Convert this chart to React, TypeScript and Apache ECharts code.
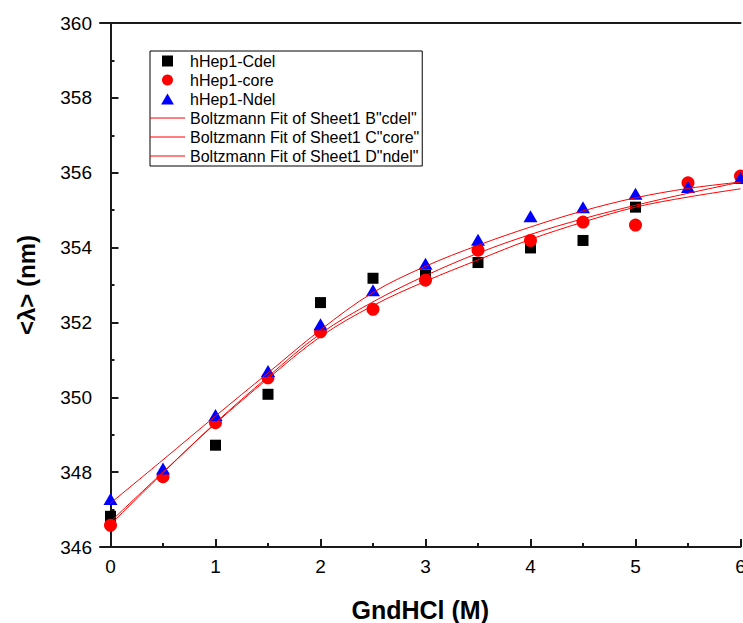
import React, { useEffect, useRef } from "react";
import * as echarts from "echarts";

// Measured data (GndHCl concentration in M)
const cdelX = [0, 1, 1.5, 2, 2.5, 3, 3.5, 4, 4.5, 5];
const cdelY = [346.82, 348.72, 350.08, 352.53, 353.18, 353.26, 353.6, 353.99, 354.19, 355.08];
const coreX = [0, 0.5, 1, 1.5, 2, 2.5, 3, 3.5, 4, 4.5, 5, 5.5, 6];
const coreY = [346.58, 347.88, 349.32, 350.52, 351.75, 352.35, 353.13, 353.93, 354.19, 354.68, 354.6, 355.73, 355.91];
const ndelX = [0, 0.5, 1, 1.5, 2, 2.5, 3, 3.5, 4, 4.5, 5, 5.5, 6];
const ndelY = [347.28, 348.1, 349.53, 350.7, 351.95, 352.86, 353.57, 354.21, 354.84, 355.08, 355.44, 355.62, 355.86];

// Boltzmann fit curves
const fitX = [0, 0.5, 1, 1.5, 2, 2.5, 3, 3.5, 4, 4.5, 5, 5.5, 6];
const fitCdel = [346.68, 348.0, 349.3, 350.5, 351.62, 352.45, 353.1, 353.67, 354.22, 354.68, 355.08, 355.35, 355.57];
const fitCore = [346.6, 347.98, 349.32, 350.55, 351.7, 352.55, 353.25, 353.85, 354.35, 354.77, 355.13, 355.45, 355.75];
const fitNdel = [347.17, 348.33, 349.5, 350.65, 351.8, 352.8, 353.5, 354.06, 354.55, 354.98, 355.33, 355.58, 355.75];

const xMajor = [0, 1, 2, 3, 4, 5, 6];
const xMinor = [0.5, 1.5, 2.5, 3.5, 4.5, 5.5];

const names = [
  "hHep1-Cdel",
  "hHep1-core",
  "hHep1-Ndel",
  'Boltzmann Fit of Sheet1 B"cdel"',
  'Boltzmann Fit of Sheet1 C"core"',
  'Boltzmann Fit of Sheet1 D"ndel"',
];

const zip = (xs: number[], ys: number[]) => xs.map((x, i) => [x, ys[i]]);

const FONT = "'Liberation Sans', Arial, sans-serif";
const INK = "#1a1a1a";

const ICON_SQUARE = "path://M0,0 L10,0 L10,10 L0,10 Z";
const ICON_TRIANGLE = "path://M7,0 L14,12 L0,12 Z";
const ICON_LINE = "path://M0,0 L35,0 L35,1 L0,1 Z";

export default function App() {
  const ref = useRef<HTMLDivElement>(null);
  useEffect(() => {
    if (!ref.current) return;
    const chart = echarts.init(ref.current, undefined, { renderer: "svg" });
    const axisLine = { show: true, lineStyle: { color: INK, width: 2 } };
    const fitSeries = (name: string, ys: number[]) => ({
      name,
      type: "line",
      symbol: "none",
      smooth: 0.35,
      lineStyle: { color: "#ff0000", width: 1 },
      itemStyle: { color: "#ff0000" },
      data: zip(fitX, ys),
      z: 5,
    });
    chart.setOption({
      animation: false,
      backgroundColor: "#ffffff",
      textStyle: { fontFamily: FONT },
      grid: { left: 100, top: 23, bottom: 76, right: 2.5, outerBoundsMode: "none", containLabel: false },
      legend: {
        orient: "vertical",
        left: 150,
        top: 51,
        padding: [2, 3, 2, 0],
        itemGap: 3,
        itemWidth: 35,
        itemHeight: 11,
        borderColor: "#000",
        borderWidth: 1,
        backgroundColor: "#fff",
        textStyle: { fontSize: 16, color: "#000", fontFamily: FONT },
        data: [
          { name: names[0], icon: ICON_SQUARE },
          { name: names[1], icon: "circle" },
          { name: names[2], icon: ICON_TRIANGLE },
          { name: names[3], icon: ICON_LINE },
          { name: names[4], icon: ICON_LINE },
          { name: names[5], icon: ICON_LINE },
        ],
      },
      xAxis: [
        {
          type: "value",
          min: -0.1,
          max: 6,
          position: "bottom",
          name: "GndHCl (M)",
          nameLocation: "middle",
          nameGap: 50,
          nameTextStyle: { fontSize: 25, fontWeight: "bold", color: "#000", fontFamily: FONT },
          axisLine,
          splitLine: { show: false },
          axisTick: {
            show: true,
            inside: true,
            length: 8,
            customValues: xMajor,
            lineStyle: { color: INK, width: 2 },
          },
          axisLabel: {
            customValues: xMajor,
            fontSize: 19,
            color: "#000",
            margin: 10,
            fontFamily: FONT,
          },
        },
        {
          type: "value",
          min: -0.1,
          max: 6,
          position: "bottom",
          axisLine: { show: false },
          splitLine: { show: false },
          axisTick: {
            show: true,
            inside: true,
            length: 4,
            customValues: xMinor,
            lineStyle: { color: INK, width: 2 },
          },
          axisLabel: { show: false },
        },
        {
          type: "value",
          min: -0.1,
          max: 6,
          position: "top",
          axisLine,
          splitLine: { show: false },
          axisTick: { show: false },
          axisLabel: { show: false },
        },
      ],
      yAxis: {
        type: "value",
        min: 346,
        max: 360,
        interval: 2,
        name: "<λ> (nm)",
        nameLocation: "middle",
        nameGap: 62,
        nameTextStyle: { fontSize: 24, fontWeight: "bold", color: "#000", fontFamily: FONT },
        axisLine,
        splitLine: { show: false },
        axisTick: { show: true, inside: true, length: 8, lineStyle: { color: INK, width: 2 } },
        minorTick: { show: true, splitNumber: 2, length: 4, lineStyle: { color: INK, width: 2 } },
        minorSplitLine: { show: false },
        axisLabel: { fontSize: 19, color: "#000", margin: 8, fontFamily: FONT },
      },
      series: [
        {
          name: names[0],
          type: "scatter",
          symbol: "rect",
          symbolSize: 11,
          itemStyle: { color: "#000000", opacity: 1 },
          data: zip(cdelX, cdelY),
          z: 2,
        },
        {
          name: names[1],
          type: "scatter",
          symbol: "circle",
          symbolSize: 13,
          itemStyle: { color: "#ff0000", opacity: 1 },
          data: zip(coreX, coreY),
          z: 3,
        },
        {
          name: names[2],
          type: "scatter",
          symbol: "triangle",
          symbolSize: [14, 12],
          itemStyle: { color: "#0000ff", opacity: 1 },
          data: zip(ndelX, ndelY),
          z: 4,
        },
        fitSeries(names[3], fitCdel),
        fitSeries(names[4], fitCore),
        fitSeries(names[5], fitNdel),
      ],
    });
    return () => chart.dispose();
  }, []);
  return <div ref={ref} style={{ width: 743, height: 623, position: "fixed", left: 0, top: 0 }} />;
}
